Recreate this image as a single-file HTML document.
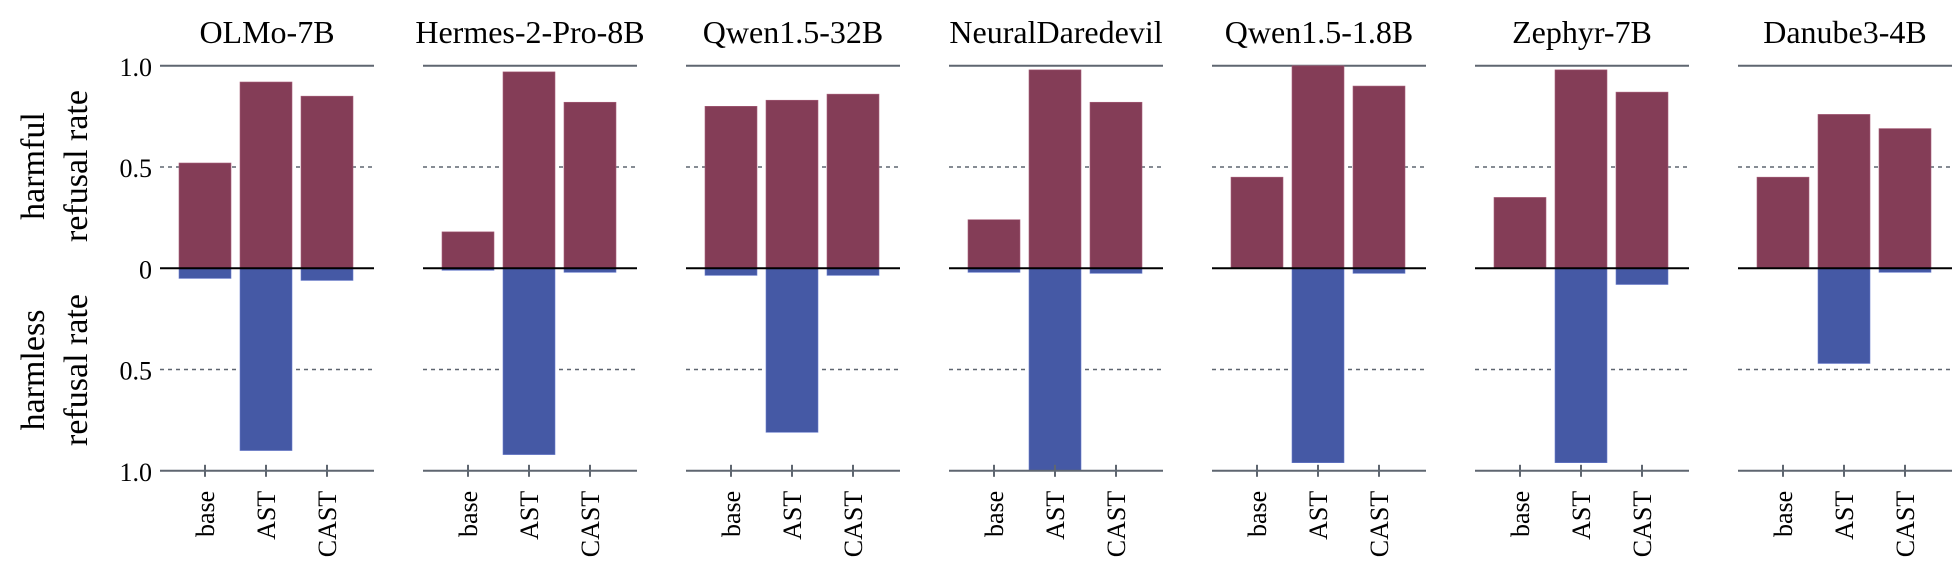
<!DOCTYPE html>
<html><head><meta charset="utf-8"><style>
html,body{margin:0;padding:0;background:#fff;}
svg{display:block;font-family:"Liberation Serif",serif;}
</style></head><body>
<svg id="chart" width="1960" height="569" viewBox="0 0 1960 569" xmlns="http://www.w3.org/2000/svg"></svg>
<script>
const models = ["OLMo-7B","Hermes-2-Pro-8B","Qwen1.5-32B","NeuralDaredevil","Qwen1.5-1.8B","Zephyr-7B","Danube3-4B"];
const methods = ["base","AST","CAST"];
const harmful = [
  [0.52,0.92,0.85],
  [0.18,0.97,0.82],
  [0.80,0.83,0.86],
  [0.24,0.98,0.82],
  [0.45,1.00,0.90],
  [0.35,0.98,0.87],
  [0.45,0.76,0.69]
];
const harmless = [
  [0.05,0.90,0.06],
  [0.01,0.92,0.02],
  [0.035,0.81,0.035],
  [0.02,1.00,0.025],
  [0.00,0.96,0.025],
  [0.00,0.96,0.08],
  [0.00,0.47,0.02]
];
const yTicks = [["1.0",1],["0.5",0.5],["0",0],["0.5",-0.5],["1.0",-1]];

const NS="http://www.w3.org/2000/svg";
const svg=document.getElementById('chart');
const zeroY=268.3, unit=202.5;
const y=v=>zeroY-v*unit;
const panelLeft=i=>160+263*i;
const panelW=214;
const xc=(i,j)=>panelLeft(i)+45+61*j;
const barW=52;
function mk(tag,attrs,parent){const e=document.createElementNS(NS,tag);for(const k in attrs)e.setAttribute(k,attrs[k]);(parent||svg).appendChild(e);return e;}

const t1=mk('text',{transform:'translate(0,166) rotate(-90)','text-anchor':'middle','font-size':'34'});


t1.innerHTML='<tspan x="0" y="44">harmful</tspan><tspan x="0" y="87">refusal rate</tspan>';
const t2=mk('text',{transform:'translate(0,370) rotate(-90)','text-anchor':'middle','font-size':'34'});


t2.innerHTML='<tspan x="0" y="44">harmless</tspan><tspan x="0" y="87">refusal rate</tspan>';

yTicks.forEach(t=>{
  const e=mk('text',{x:152,y:y(t[1])+10,'text-anchor':'end','font-size':'26'});
  
  
  e.textContent=t[0];
});

models.forEach((m,i)=>{
  const g=mk('g',{});
  
  
  const L=panelLeft(i),R=L+panelW;
  const title=mk('text',{x:L+panelW/2,y:43,'text-anchor':'middle','font-size':'32'},g);
  
  
  title.textContent=m;
  const top=mk('line',{x1:L,x2:R,y1:y(1),y2:y(1),stroke:'#5f6670','stroke-width':2},g);
  
  
  [0.5,-0.5].forEach(v=>{
    const d=mk('line',{x1:L,x2:R,y1:y(v),y2:y(v),stroke:'#5f6670','stroke-width':1.5,'stroke-dasharray':'4 4'},g);
    
    
  });
  methods.forEach((mt,j)=>{
    const hv=harmful[i][j];
    const b1=mk('rect',{x:xc(i,j)-barW/2,y:y(hv),width:barW,height:y(0)-y(hv),fill:'#843d57',stroke:'#a8607a','stroke-width':0.6},g);
    
    
    const lv=harmless[i][j];
    const b2=mk('rect',{x:xc(i,j)-barW/2,y:y(0),width:barW,height:lv*unit,fill:'#4559a5',stroke:'#6a7ccc','stroke-width':0.6},g);
    
    
    const tk=mk('line',{x1:xc(i,j),x2:xc(i,j),y1:y(-1)-6,y2:y(-1)+6,stroke:'#5f6670','stroke-width':2},g);
    
    
    const lb=mk('text',{transform:`translate(${xc(i,j)+9},${y(-1)+20}) rotate(-90)`,'text-anchor':'end','font-size':'26'},g);
    
    
    lb.textContent=mt;
  });
  const z=mk('line',{x1:L,x2:R,y1:y(0),y2:y(0),stroke:'#000','stroke-width':2},g);
  
  
  const bt=mk('line',{x1:L,x2:R,y1:y(-1),y2:y(-1),stroke:'#5f6670','stroke-width':2},g);
  
  
});
</script>
</body></html>
